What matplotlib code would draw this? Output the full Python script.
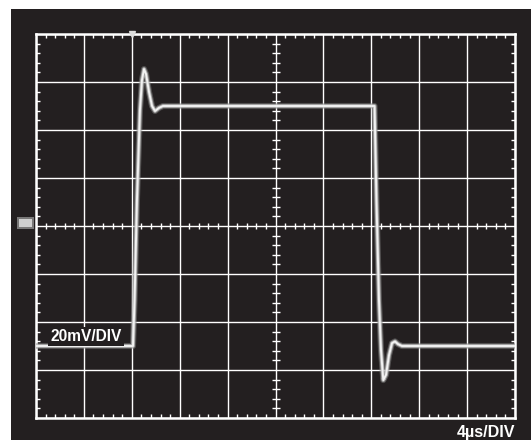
import matplotlib
matplotlib.use("Agg")
import matplotlib.pyplot as plt
from matplotlib.ticker import MultipleLocator
from matplotlib.patches import Rectangle
import numpy as np

# Scope trace: time in microseconds, amplitude in millivolts
time_us = [0.0, 8.10, 8.23, 8.43, 8.68, 8.85, 9.02, 9.19, 9.44, 9.69, 9.94,
           10.27, 10.60, 28.27, 28.43, 28.64, 28.81, 29.00, 29.23, 29.48,
           29.73, 29.98, 30.23, 30.56, 40.0]
volts_mv = [-50.0, -50.0, -30.8, 10.8, 48.3, 60.8, 65.4, 63.3, 55.8, 50.0, 47.9,
            49.2, 50.0, 50.0, 10.8, -30.8, -51.7, -64.2, -62.0, -53.8,
            -48.8, -48.1, -49.2, -50.0, -50.0]

time_per_div = 4.0     # us/DIV
volt_per_div = 20.0    # mV/DIV
n_xdiv, n_ydiv = 10, 8
vert_label = "20mV/DIV"
horiz_label = "4\u00b5s/DIV"

bg = "#231f20"
W, H = 531, 440
fig = plt.figure(figsize=(W / 100, H / 100), dpi=100, facecolor="white")

# dark screen area
fig.patches.append(Rectangle((11 / W, 0), 1 - 11 / W, (H - 9) / H,
                             transform=fig.transFigure, facecolor=bg,
                             edgecolor="none", zorder=-5))

ax = fig.add_axes([36 / W, (H - 418) / H, 479 / W, 384 / H])
ax.set_zorder(1)
ax.set_facecolor(bg)
xmax = n_xdiv * time_per_div
ymax = n_ydiv / 2 * volt_per_div
ax.set_xlim(0, xmax)
ax.set_ylim(-ymax, ymax)

# graticule
ax.xaxis.set_major_locator(MultipleLocator(time_per_div))
ax.yaxis.set_major_locator(MultipleLocator(volt_per_div))
ax.xaxis.set_minor_locator(MultipleLocator(time_per_div / 5))
ax.yaxis.set_minor_locator(MultipleLocator(volt_per_div / 5))
ax.grid(which="major", color="white", lw=1.0, zorder=1)
ax.tick_params(which="major", length=0, labelbottom=False, labelleft=False)
ax.tick_params(which="minor", direction="in", length=3.2, width=1.0,
               color="white", top=True, right=True, bottom=True, left=True)
for s in ax.spines.values():
    s.set_color("white")
    s.set_linewidth(1.8)

# minor ticks on the centre cross
xs = np.arange(0, xmax + 1e-9, time_per_div / 5)
xs = xs[np.abs(xs / time_per_div - np.round(xs / time_per_div)) > 1e-6]
ys = np.arange(-ymax, ymax + 1e-9, volt_per_div / 5)
ys = ys[np.abs(ys / volt_per_div - np.round(ys / volt_per_div)) > 1e-6]
ax.plot(xs, np.zeros_like(xs), ls="none", marker="|", ms=5, mew=1.0,
        color="white", zorder=2)
ax.plot(np.full_like(ys, xmax / 2), ys, ls="none", marker="_", ms=5.5, mew=1.0,
        color="white", zorder=2)

# trace with phosphor glow
ax.plot(time_us, volts_mv, color="#8c8c8c", lw=4.4, alpha=0.45,
        solid_joinstyle="round", solid_capstyle="butt", zorder=3)
ax.plot(time_us, volts_mv, color="#bdbdbd", lw=2.8, alpha=0.8,
        solid_joinstyle="round", solid_capstyle="butt", zorder=3)
ax.plot(time_us, volts_mv, color="#f2f2f2", lw=1.4,
        solid_joinstyle="round", solid_capstyle="butt", zorder=4)

# trigger marker at the top and ground marker at the left
ax.plot([time_us[1] - 0.1], [ymax], marker="v", ms=5, color="#dddddd",
        clip_on=False, zorder=5)
fig.patches.append(Rectangle((17 / W, (H - 229) / H), 17 / W, 12 / H,
                             transform=fig.transFigure, facecolor="#8f8f8f",
                             edgecolor="none", alpha=0.8, zorder=5))
fig.patches.append(Rectangle((19 / W, (H - 227) / H), 13 / W, 8 / H,
                             transform=fig.transFigure, facecolor="#cfcfcf",
                             edgecolor="none", zorder=5))

ax.text(1.2, -47.8, vert_label, color="white", fontsize=11.2, fontweight="bold",
        family=["Liberation Sans", "DejaVu Sans"], ha="left", va="baseline",
        zorder=6,
        bbox=dict(facecolor=bg, edgecolor="none", pad=1.5))
fig.text(515 / W, (H - 437) / H, horiz_label, color="white", fontsize=11.6,
         fontweight="bold", family=["Liberation Sans", "DejaVu Sans"],
         ha="right", va="baseline")

fig.savefig("out.png", dpi=100, facecolor="white")
